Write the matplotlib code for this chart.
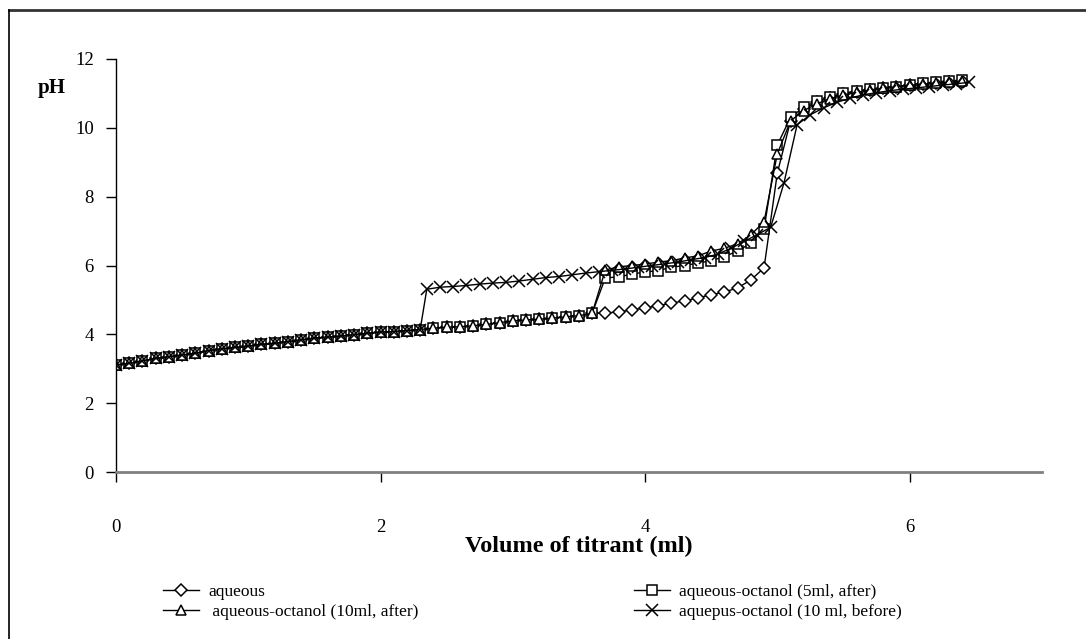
import matplotlib
matplotlib.use("Agg")
import matplotlib.pyplot as plt
from matplotlib.lines import Line2D

plt.rcParams['font.family'] = ['Liberation Serif', 'DejaVu Serif']

# common part of the titrations (0 - 3.6 ml, step 0.1)
base_vol = [0.0, 0.1, 0.2, 0.3, 0.4, 0.5, 0.6, 0.7, 0.8, 0.9, 1.0, 1.1, 1.2,
            1.3, 1.4, 1.5, 1.6, 1.7, 1.8, 1.9, 2.0, 2.1, 2.2, 2.3, 2.4, 2.5,
            2.6, 2.7, 2.8, 2.9, 3.0, 3.1, 3.2, 3.3, 3.4, 3.5, 3.6]
base_ph = [3.11, 3.16, 3.23, 3.30, 3.35, 3.40, 3.45, 3.53, 3.58, 3.62, 3.66,
           3.71, 3.74, 3.79, 3.84, 3.89, 3.92, 3.95, 3.99, 4.03, 4.07, 4.08,
           4.11, 4.14, 4.18, 4.21, 4.22, 4.25, 4.29, 4.34, 4.39, 4.42, 4.44,
           4.47, 4.51, 4.54, 4.61]

# after 3.6 ml
late_vol = [3.7, 3.8, 3.9, 4.0, 4.1, 4.2, 4.3, 4.4, 4.5, 4.6, 4.7, 4.8, 4.9,
            5.0, 5.1, 5.2, 5.3, 5.4, 5.5, 5.6, 5.7, 5.8, 5.9, 6.0, 6.1, 6.2,
            6.3, 6.4]
aqueous_late = [4.62, 4.65, 4.71, 4.77, 4.83, 4.91, 4.97, 5.06, 5.15, 5.23,
                5.35, 5.58, 5.93, 8.68, 10.20, 10.55, 10.75, 10.88, 10.98,
                11.05, 11.10, 11.15, 11.20, 11.23, 11.27, 11.30, 11.32, 11.33]
oct5_late = [5.64, 5.67, 5.75, 5.81, 5.85, 5.95, 6.00, 6.07, 6.14, 6.26, 6.42,
             6.65, 7.06, 9.50, 10.30, 10.60, 10.78, 10.90, 11.00, 11.08,
             11.12, 11.17, 11.20, 11.25, 11.30, 11.33, 11.37, 11.38]
oct10_late = [5.87, 5.96, 6.00, 6.04, 6.10, 6.14, 6.22, 6.28, 6.42, 6.50, 6.63,
              6.89, 7.27, 9.24, 10.20, 10.50, 10.70, 10.85, 10.95, 11.03,
              11.10, 11.15, 11.20, 11.23, 11.27, 11.30, 11.32, 11.35]

# "before" series: same as base up to 2.3 ml, then its own volumes
before_vol = [2.35, 2.45, 2.55, 2.65, 2.75, 2.85, 2.95, 3.05, 3.15, 3.25,
              3.35, 3.45, 3.55, 3.65, 3.75, 3.85, 3.95, 4.05, 4.15, 4.25,
              4.35, 4.45, 4.55, 4.65, 4.75, 4.85, 4.95, 5.05, 5.15, 5.25,
              5.35, 5.45, 5.55, 5.65, 5.75, 5.85, 5.95, 6.05, 6.15, 6.25,
              6.35, 6.45]
before_ph = [5.31, 5.37, 5.39, 5.42, 5.46, 5.49, 5.51, 5.55, 5.60, 5.65,
             5.68, 5.73, 5.78, 5.82, 5.86, 5.90, 5.95, 6.00, 6.05, 6.10,
             6.17, 6.23, 6.33, 6.50, 6.70, 6.90, 7.11, 8.39, 10.09, 10.38,
             10.58, 10.74, 10.86, 10.96, 11.02, 11.08, 11.12, 11.16, 11.20,
             11.24, 11.28, 11.32]

labels = ["aqueous", "aqueous-octanol (5ml, after)",
          " aqueous-octanol (10ml, after)", "aquepus-octanol (10 ml, before)"]

fig = plt.figure(figsize=(10.86, 6.39), dpi=100)
ax = fig.add_axes([0.1068, 0.2613, 0.8525, 0.6464])

style = dict(color='black', lw=1.0, mfc='white', mec='black', mew=1.1)
h1, = ax.plot(base_vol + late_vol, base_ph + aqueous_late, marker='D', ms=6, label=labels[0], **style)
h2, = ax.plot(base_vol + late_vol, base_ph + oct5_late, marker='s', ms=7, label=labels[1], **style)
h3, = ax.plot(base_vol + late_vol, base_ph + oct10_late, marker='^', ms=7.5, label=labels[2], **style)
h4, = ax.plot(base_vol[:24] + before_vol, base_ph[:24] + before_ph, marker='x', ms=8.5, label=labels[3], **style)

ax.set_xlim(0, 7)
ax.set_ylim(0, 12)
ax.set_xticks([0, 2, 4, 6])
ax.set_yticks([0, 2, 4, 6, 8, 10, 12])
ax.spines['top'].set_visible(False)
ax.spines['right'].set_visible(False)
ax.spines['bottom'].set_color('#808080')
ax.spines['bottom'].set_linewidth(2)
ax.spines['left'].set_linewidth(1)
ax.tick_params(axis='y', length=7, width=1, pad=9, labelsize=13.5)
ax.tick_params(axis='x', length=7, width=1, pad=27, labelsize=13.5)

ax.set_xlabel("Volume of titrant (ml)", fontsize=17.5, fontweight='bold', labelpad=0)
fig.text(0.035, 0.862, "pH", fontsize=15, fontweight='bold', ha='left', va='center')

leg = fig.legend([h1, h3, h2, h4], [labels[0], labels[2], labels[1], labels[3]],
                 ncol=2, loc='upper left', bbox_to_anchor=(0.15, 0.086),
                 frameon=False, fontsize=12.5, handlelength=2.1,
                 handletextpad=0.5, columnspacing=12.4, labelspacing=0.22,
                 borderaxespad=0, borderpad=0)

# outer frame (top and left edges)
fig.add_artist(Line2D([0.0083, 1.0], [0.984, 0.984], transform=fig.transFigure, color='#333333', lw=2))
fig.add_artist(Line2D([0.0083, 0.0083], [0.0, 0.984], transform=fig.transFigure, color='black', lw=1.2))

fig.savefig("out.png", dpi=100)
